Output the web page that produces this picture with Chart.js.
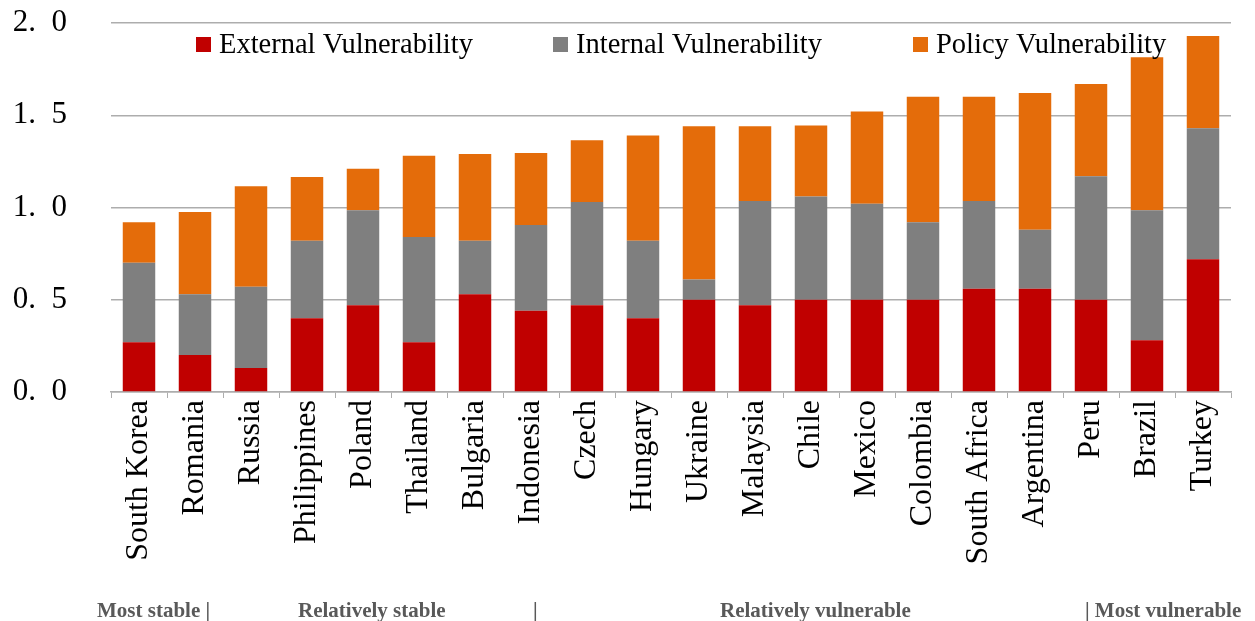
<!DOCTYPE html>
<html>
<head>
<meta charset="utf-8">
<script src="https://cdn.jsdelivr.net/npm/chart.js@4"></script>
<style>
  html, body { margin: 0; padding: 0; background: #fff; }
  #wrap { position: relative; width: 1255px; height: 621px; }
  .band {
    position: absolute; top: 598px;
    font: bold 21px "Liberation Serif", "Times New Roman", serif;
    color: #595959; white-space: pre;
  }
</style>
</head>
<body>
<div id="wrap">
  <canvas id="vuln-chart" width="1255" height="621"></canvas>
  <div class="band" style="left:97px">Most stable |</div>
  <div class="band" style="left:298px">Relatively stable</div>
  <div class="band" style="left:533px">|</div>
  <div class="band" style="left:720px">Relatively vulnerable</div>
  <div class="band" style="left:1085px">| Most vulnerable</div>
</div>
<script>
const countries = ['South Korea', 'Romania', 'Russia', 'Philippines', 'Poland', 'Thailand', 'Bulgaria',
  'Indonesia', 'Czech', 'Hungary', 'Ukraine', 'Malaysia', 'Chile', 'Mexico', 'Colombia',
  'South Africa', 'Argentina', 'Peru', 'Brazil', 'Turkey'];

const external = [0.27, 0.20, 0.13, 0.40, 0.47, 0.27, 0.53, 0.44, 0.47, 0.40,
  0.50, 0.47, 0.50, 0.50, 0.50, 0.56, 0.56, 0.50, 0.28, 0.72];
const internal = [0.43, 0.33, 0.44, 0.42, 0.515, 0.57, 0.29, 0.465, 0.56, 0.42,
  0.11, 0.565, 0.56, 0.52, 0.42, 0.475, 0.32, 0.67, 0.705, 0.71];
const policy = [0.22, 0.445, 0.545, 0.345, 0.225, 0.44, 0.47, 0.39, 0.335, 0.57,
  0.83, 0.405, 0.385, 0.50, 0.68, 0.565, 0.74, 0.50, 0.83, 0.50];

const yTicks = [0, 0.5, 1.0, 1.5, 2.0];

const serif = '"Liberation Serif", "Times New Roman", serif';
const gridColor = '#adadad';

// legend drawn over the plot area, like the original
const overlayLegend = {
  id: 'overlayLegend',
  afterDatasetsDraw(chart) {
    const ctx = chart.ctx;
    const spots = [196, 553, 913];
    ctx.save();
    ctx.font = '28.5px ' + serif;
    ctx.textBaseline = 'middle';
    chart.data.datasets.forEach(function (ds, i) {
      ctx.fillStyle = ds.backgroundColor;
      ctx.fillRect(spots[i], 37, 15, 15);
      ctx.fillStyle = '#000';
      ctx.fillText(ds.label, spots[i] + 23, 46);
    });
    ctx.restore();
  }
};

new Chart(document.getElementById('vuln-chart'), {
  type: 'bar',
  data: {
    labels: countries,
    datasets: [
      { label: 'External Vulnerability', data: external, backgroundColor: '#c00000' },
      { label: 'Internal Vulnerability', data: internal, backgroundColor: '#7f7f7f' },
      { label: 'Policy Vulnerability', data: policy, backgroundColor: '#e46c0a' }
    ]
  },
  options: {
    responsive: false,
    animation: false,
    layout: { padding: { left: 4, right: 24, top: 23, bottom: 54 } },
    datasets: { bar: { categoryPercentage: 1, barPercentage: 0.58 } },
    plugins: {
      legend: { display: false },
      tooltip: { enabled: false }
    },
    scales: {
      x: {
        stacked: true,
        afterFit(scale) { scale.height = 175; },
        border: { color: gridColor, width: 1.5 },
        grid: { offset: true, drawOnChartArea: false, tickLength: 6, color: gridColor },
        ticks: {
          minRotation: 90, maxRotation: 90, autoSkip: false, padding: 2,
          color: '#000', font: { family: serif, size: 32 }
        }
      },
      y: {
        stacked: true,
        min: 0, max: 2,
        afterFit(scale) {
          scale.width = 107;
          scale.paddingTop = 0;
          scale.paddingBottom = 0;
        },
        afterBuildTicks(scale) { scale.ticks = yTicks.map(v => ({ value: v })); },
        border: { display: false },
        grid: { color: gridColor, lineWidth: 1.5, tickLength: 0 },
        ticks: {
          padding: 44, color: '#000',
          font: { family: serif, size: 31 },
          callback: v => v.toFixed(1).replace('.', '.\u2002')
        }
      }
    }
  },
  plugins: [overlayLegend]
});
</script>
</body>
</html>
